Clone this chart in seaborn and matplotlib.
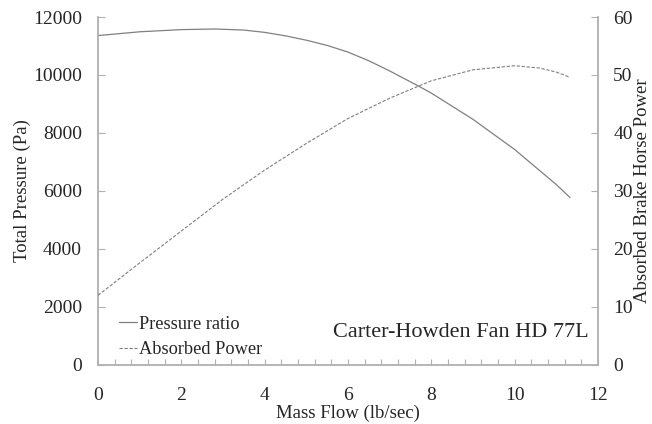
import matplotlib
matplotlib.use("Agg")
import matplotlib.pyplot as plt
from matplotlib.ticker import MultipleLocator
import seaborn as sns
import pandas as pd

# Fan performance curves
mass_flow = [0, 1, 2, 2.8, 3.5, 4, 4.5, 5, 5.5, 6, 6.5, 7, 7.69, 8, 9, 10, 11, 11.33]
total_pressure = [11360, 11490, 11565, 11586, 11550, 11470, 11350, 11200, 11020,
                  10790, 10490, 10140, 9620, 9375, 8470, 7430, 6220, 5770]

power_flow = [0, 1, 2, 3, 4, 5, 6, 7, 8, 9, 10, 10.6, 11, 11.33]
absorbed_power = [12, 17.6, 23.1, 28.6, 33.6, 38.2, 42.5, 46.0, 49.0,
                  50.9, 51.6, 51.2, 50.5, 49.6]

sns.set_theme(style="white")
plt.rcParams["font.family"] = ["Liberation Serif", "DejaVu Serif"]

line_color = "#808080"
spine_color = "#b0b0b0"

fig = plt.figure(figsize=(6.52, 4.24), dpi=100)
ax = fig.add_axes([0.1503, 0.1392, 0.7669, 0.8207])
ax2 = ax.twinx()

df_p = pd.DataFrame({"flow": mass_flow, "pressure": total_pressure})
df_w = pd.DataFrame({"flow": power_flow, "power": absorbed_power})

sns.lineplot(data=df_p, x="flow", y="pressure", ax=ax, color=line_color,
             lw=0.9, label="Pressure ratio", legend=False)
sns.lineplot(data=df_w, x="flow", y="power", ax=ax2, color=line_color,
             lw=0.8, linestyle=(0, (3, 1.5)), label="Absorbed Power", legend=False)

ax.set_xlim(0, 12)
ax.set_ylim(0, 12000)
ax2.set_ylim(0, 60)
ax.xaxis.set_major_locator(MultipleLocator(2))
ax.xaxis.set_minor_locator(MultipleLocator(0.4))
ax.yaxis.set_major_locator(MultipleLocator(2000))
ax2.yaxis.set_major_locator(MultipleLocator(10))

for a in (ax, ax2):
    a.spines["top"].set_visible(False)
    for s in ("left", "right", "bottom"):
        a.spines[s].set_color(spine_color)
        a.spines[s].set_linewidth(1.3)
    a.grid(False)

ax.spines["right"].set_visible(False)
ax2.spines["left"].set_visible(False)
ax2.spines["bottom"].set_visible(False)

ax.tick_params(axis="x", which="both", direction="in", length=4, width=0.8,
               color=spine_color, labelsize=14, pad=16, bottom=True)
ax.tick_params(axis="y", direction="in", length=5, width=0.8,
               color=spine_color, labelsize=14, pad=11.5, left=True)
ax2.tick_params(axis="y", direction="in", length=5, width=0.8,
                color=spine_color, labelsize=14, pad=11, right=True)

ax.set_xlabel("Mass Flow (lb/sec)", fontsize=13.5, labelpad=0)
ax.set_ylabel("Total Pressure (Pa)", fontsize=13.5)
ax2.set_ylabel("Absorbed Brake Horse Power", fontsize=13.5)
ax.yaxis.set_label_coords(-0.152, 0.5)
ax2.yaxis.set_label_coords(1.088, 0.5)
ax.yaxis.label.set_va("center")
ax2.yaxis.label.set_va("center")

handles = ax.get_lines()[:1] + ax2.get_lines()[:1]
ax2.legend(handles, ["Pressure ratio", "Absorbed Power"], loc="lower left",
           bbox_to_anchor=(0.02, -0.012), frameon=False, fontsize=13.2,
           handlelength=1.0, handletextpad=0.1, labelspacing=0.45,
           borderaxespad=0.2)

ax2.text(0.982, 0.065, "Carter-Howden Fan HD 77L", transform=ax2.transAxes,
         ha="right", va="bottom", fontsize=16)

fig.savefig("out.png", dpi=100)
